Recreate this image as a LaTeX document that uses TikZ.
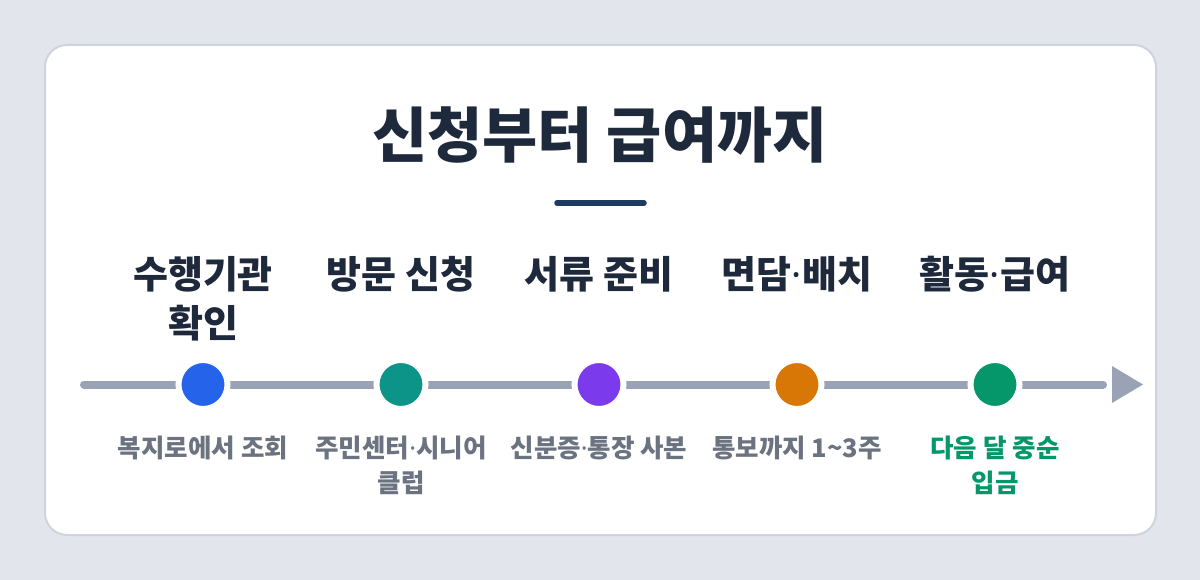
\documentclass[tikz,border=0pt]{standalone}
\usepackage{fontspec}
\setmainfont{Noto Sans CJK KR}
\newfontfamily\latinf{Noto Sans}
\newcommand{\mdot}{{\latinf\bfseries ·}}
\definecolor{bgc}{HTML}{E2E5EC}
\definecolor{cardline}{HTML}{CFD4DC}
\definecolor{titlec}{HTML}{1E293B}
\definecolor{barc}{HTML}{1E3A5F}
\definecolor{linec}{HTML}{9AA3B5}
\definecolor{descc}{HTML}{6B7280}
\definecolor{c1}{HTML}{2563EB}
\definecolor{c2}{HTML}{0D9488}
\definecolor{c3}{HTML}{7C3AED}
\definecolor{c4}{HTML}{D97706}
\definecolor{c5}{HTML}{059669}
\tikzset{
  steptitle/.style={font=\fontsize{38}{48}\selectfont\bfseries, text=titlec, anchor=base, align=center},
  stepdesc/.style={font=\fontsize{25.5}{35}\selectfont\bfseries, text=descc, anchor=base, align=center},
  dot/.style={circle, minimum size=49pt, inner sep=0pt, draw=white, line width=6pt},
  track/.style={linec, line width=8pt, line cap=round},
}
\begin{document}
\begin{tikzpicture}[x=1pt,y=-1pt]
\useasboundingbox (0,0) rectangle (1200,580);
\fill[bgc] (0,0) rectangle (1200,580);
\draw[cardline, line width=2pt, fill=white, rounded corners=22pt] (45,45) rectangle (1156,535);

\node[font=\fontsize{60}{66}\selectfont\bfseries, text=titlec, anchor=base] (title) at (600,158) {신청부터 급여까지};
\coordinate (barL) at (557,203);
\coordinate (barR) at (644,203);
\draw[barc, line width=5.5pt, line cap=round] (barL) -- (barR);

\coordinate (start) at (84,384.5);
\coordinate (trackend) at (1103,384.5);
\draw[track] (start) -- (trackend);
\fill[linec] (1112,366) -- (1143,384.5) -- (1112,403) -- cycle;

\foreach \i/\x/\c in {1/203/c1,2/401/c2,3/599/c3,4/797/c4,5/995/c5}{
  \node[dot, fill=\c] (d\i) at (\x,384.5) {};
}

\node[steptitle] (t1) at (203,337) {수행기관\\확인};
\node[steptitle] (t2) at (401,289) {방문 신청};
\node[steptitle] (t3) at (599,289) {서류 준비};
\node[steptitle] (t4) at (797,289) {면담\mdot 배치};
\node[steptitle] (t5) at (995,289) {활동\mdot 급여};

\node[stepdesc] (s1) at (203,457) {복지로에서 조회};
\node[stepdesc] (s2) at (401,492) {주민센터\mdot 시니어\\클럽};
\node[stepdesc] (s3) at (599,457) {신분증\mdot 통장 사본};
\node[stepdesc] (s4) at (797,457) {통보까지 1\textasciitilde3주};
\node[stepdesc, text=c5] (s5) at (995,492) {다음 달 중순\\입금};
\end{tikzpicture}
\end{document}
